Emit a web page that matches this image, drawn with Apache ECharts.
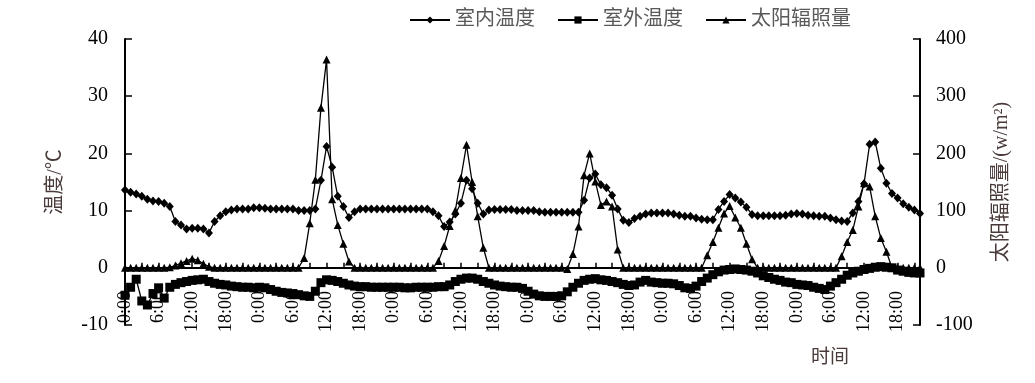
<!DOCTYPE html>
<html>
<head>
<meta charset="utf-8">
<script src="https://cdn.jsdelivr.net/npm/echarts@6/dist/echarts.min.js"></script>
<style>
html,body{margin:0;padding:0;background:#fff;}
#chart{width:1035px;height:383px;}
</style>
</head>
<body>
<div id="chart"></div>
<script>
// ---- data ----
const hourLabels = ["0:00","1:00","2:00","3:00","4:00","5:00","6:00","7:00","8:00","9:00","10:00","11:00","12:00","13:00","14:00","15:00","16:00","17:00","18:00","19:00","20:00","21:00","22:00","23:00"];
const dayCount = 6;
const pointCount = 143;
const categories = [];
for (let d = 0; d < dayCount; d++) for (let h = 0; h < 24; h++) categories.push(hourLabels[h]);
categories.length = pointCount;

const indoorTemp = [
13.6,13.2,12.9,12.5,12.0,11.7,11.6,11.3,10.7,8.1,7.5,6.8,6.9,6.9,6.8,6.1,8.1,9.1,9.8,10.1,10.3,10.3,10.3,10.5,
10.5,10.4,10.3,10.3,10.3,10.3,10.3,10.0,10.0,10.0,10.3,15.3,21.2,17.6,12.5,10.7,8.8,9.8,10.3,10.3,10.3,10.3,10.3,10.3,
10.3,10.3,10.3,10.3,10.3,10.3,10.3,9.8,9.1,7.2,8.0,9.4,11.3,15.3,13.8,11.3,9.4,10.1,10.2,10.2,10.2,10.2,10.0,10.0,
10.0,10.0,9.8,9.7,9.7,9.7,9.7,9.7,9.7,9.7,11.8,15.7,16.4,14.5,14.0,12.7,10.3,8.3,7.9,8.6,9.0,9.4,9.6,9.6,
9.6,9.6,9.4,9.2,9.0,9.0,8.7,8.5,8.4,8.4,10.2,11.6,12.8,12.2,11.5,10.6,9.3,9.1,9.1,9.1,9.1,9.1,9.2,9.4,
9.5,9.4,9.2,9.1,9.0,9.0,8.7,8.4,8.2,8.1,9.6,11.6,14.7,21.6,22.0,17.4,14.8,13.0,12.2,11.2,10.6,10.1,9.5
];
const outdoorTemp = [
-4.8,-3.4,-2.0,-5.8,-6.5,-4.5,-3.5,-5.3,-3.4,-2.9,-2.6,-2.4,-2.2,-2.1,-2.0,-2.4,-2.7,-2.9,-3.0,-3.2,-3.3,-3.4,-3.4,-3.5,
-3.4,-3.5,-3.8,-4.1,-4.3,-4.4,-4.5,-4.7,-4.9,-5.0,-4.1,-2.6,-2.1,-2.2,-2.4,-2.7,-3.0,-3.2,-3.3,-3.3,-3.4,-3.4,-3.4,-3.4,
-3.4,-3.4,-3.5,-3.5,-3.4,-3.4,-3.4,-3.4,-3.3,-3.3,-3.0,-2.4,-2.0,-1.8,-1.8,-2.0,-2.4,-2.7,-3.0,-3.2,-3.3,-3.4,-3.4,-3.6,
-4.1,-4.6,-4.9,-5.0,-5.0,-5.0,-4.9,-4.2,-3.4,-2.7,-2.2,-2.0,-1.9,-2.1,-2.2,-2.4,-2.6,-2.9,-3.1,-3.0,-2.5,-2.2,-2.5,-2.6,
-2.7,-2.7,-2.8,-3.1,-3.5,-3.6,-3.2,-2.4,-1.8,-1.2,-0.7,-0.4,-0.3,-0.2,-0.3,-0.4,-0.6,-0.9,-1.4,-1.7,-2.0,-2.2,-2.5,-2.6,
-2.9,-3.0,-3.1,-3.4,-3.6,-3.8,-3.2,-2.6,-2.0,-1.3,-0.9,-0.6,-0.3,-0.1,0.1,0.2,0.1,0.0,-0.4,-0.6,-0.8,-0.9,-0.9
];
const solarRadiation = [
0,0,0,0,0,0,0,0,1,4,8,12,16,13,7,2,0,0,0,0,0,0,0,0,
0,0,0,0,0,0,0,0,17,78,154,280,364,120,75,42,11,0,0,0,0,0,0,0,
0,0,0,0,0,0,0,0,12,38,73,100,157,215,150,90,35,0,0,0,0,0,0,0,
0,0,0,0,0,0,0,-2,24,72,162,200,151,110,116,107,32,0,0,0,0,0,0,0,
0,0,0,0,0,0,0,0,22,45,70,95,108,88,70,42,15,0,0,0,0,0,0,0,
0,0,0,0,0,0,0,0,20,45,66,107,148,142,90,52,28,0,0,0,0,0,0
];

const leftTicks = {min: -10, max: 40, interval: 10};
const rightTicks = {min: -100, max: 400, interval: 100};
const seriesNames = ["室内温度", "室外温度", "太阳辐照量"];

// ---- chart ----
const FONT = '"Liberation Serif", "Noto Sans CJK SC", serif';
const NAME_COLOR = '#4a3b3b';
const chart = echarts.init(document.getElementById('chart'), null, {renderer: 'canvas'});
chart.setOption({
  animation: false,
  backgroundColor: '#fff',
  textStyle: {fontFamily: FONT},
  grid: {left: 125, right: 115, top: 39, bottom: 58, containLabel: false, outerBoundsMode: 'none'},
  legend: {
    top: 5, left: 404,
    itemWidth: 40, itemHeight: 9, itemGap: 22,
    textStyle: {fontFamily: FONT, fontSize: 20, color: '#595959'},
    data: seriesNames
  },
  xAxis: [
    {
      // labels only, drawn just below the zero line
      type: 'category', data: categories, boundaryGap: false, position: 'bottom',
      axisLine: {show: false, onZero: false},
      axisTick: {show: false},
      axisLabel: {interval: 5, rotate: 90, margin: -34, fontSize: 18, color: '#000', fontFamily: FONT},
      splitLine: {show: false}
    },
    {
      // the axis line on the zero value with its ticks
      type: 'category', data: categories, boundaryGap: false, position: 'bottom',
      axisLine: {show: true, onZero: true, onZeroAxisIndex: 0, lineStyle: {color: '#000', width: 2}},
      axisTick: {show: true, inside: true, length: 5, interval: 2, lineStyle: {color: '#000', width: 1.5}},
      axisLabel: {show: false},
      splitLine: {show: false}
    }
  ],
  yAxis: [
    {
      type: 'value', position: 'left',
      min: leftTicks.min, max: leftTicks.max, interval: leftTicks.interval,
      name: '温度/℃', nameLocation: 'middle', nameRotate: 90, nameGap: 59,
      nameTextStyle: {fontSize: 20, color: NAME_COLOR, fontFamily: FONT},
      axisLine: {show: true, onZero: false, lineStyle: {color: '#000', width: 2}},
      axisTick: {show: true, inside: true, length: 7, lineStyle: {color: '#000', width: 1.5}},
      axisLabel: {fontSize: 20, color: '#000', margin: 17, fontFamily: FONT},
      splitLine: {show: false}
    },
    {
      type: 'value', position: 'right',
      min: rightTicks.min, max: rightTicks.max, interval: rightTicks.interval,
      name: '太阳辐照量/(w/m²)', nameLocation: 'middle', nameRotate: 90, nameGap: 72,
      nameTextStyle: {fontSize: 20, color: NAME_COLOR, fontFamily: FONT},
      axisLine: {show: true, onZero: false, lineStyle: {color: '#000', width: 2}},
      axisTick: {show: true, inside: true, length: 7, lineStyle: {color: '#000', width: 1.5}},
      axisLabel: {fontSize: 20, color: '#000', margin: 16, fontFamily: FONT},
      splitLine: {show: false}
    }
  ],
  graphic: [{
    type: 'text', left: 811, top: 349,
    style: {text: '时间', fontSize: 19, fill: NAME_COLOR, fontFamily: FONT}
  }],
  series: [
    {
      name: seriesNames[0], type: 'line', xAxisIndex: 0, yAxisIndex: 0, data: indoorTemp,
      symbol: 'diamond', symbolSize: [8, 9], showAllSymbol: true,
      lineStyle: {color: '#000', width: 1.3}, itemStyle: {color: '#000'}
    },
    {
      name: seriesNames[1], type: 'line', xAxisIndex: 0, yAxisIndex: 0, data: outdoorTemp,
      symbol: 'rect', symbolSize: 9, showAllSymbol: true,
      lineStyle: {color: '#000', width: 1.3}, itemStyle: {color: '#000'}
    },
    {
      name: seriesNames[2], type: 'line', xAxisIndex: 0, yAxisIndex: 1, data: solarRadiation,
      symbol: 'triangle', symbolSize: 8, showAllSymbol: true,
      lineStyle: {color: '#000', width: 1.3}, itemStyle: {color: '#000'}
    }
  ]
});
</script>
</body>
</html>
